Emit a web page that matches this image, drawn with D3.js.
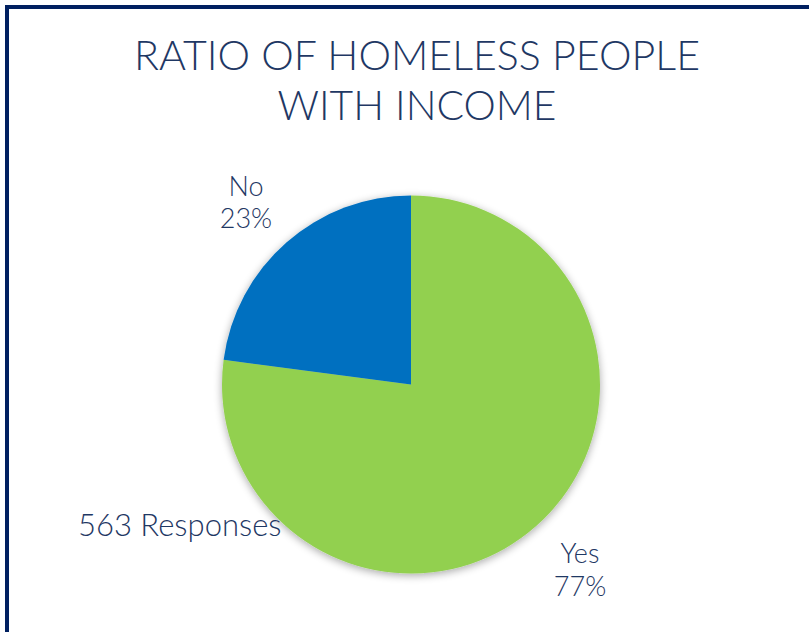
<!DOCTYPE html>
<html>
<head>
<meta charset="utf-8">
<script src="https://cdn.jsdelivr.net/npm/d3@7"></script>
<style>
  html, body { margin: 0; padding: 0; background: #fff; }
  svg { display: block; }
  text { font-family: Lato, "Open Sans", sans-serif; fill: #1f3864; }
</style>
</head>
<body>
<div id="chart"></div>
<script>
// chart data
var categories = ["Yes", "No"],
    counts     = [434, 129],
    colors     = ["#92d050", "#0070c0"],
    titleLines = ["RATIO OF HOMELESS PEOPLE", "WITH INCOME"],
    totalLabel = "563 Responses";

var width = 809, height = 632;

var svg = d3.select("#chart")
  .append("svg")
    .attr("width", width)
    .attr("height", height);

// soft shadow round the pie
var defs = svg.append("defs");
var shadow = defs.append("filter")
    .attr("id", "pie-shadow")
    .attr("x", "-10%").attr("y", "-10%")
    .attr("width", "120%").attr("height", "120%");
shadow.append("feGaussianBlur")
    .attr("in", "SourceAlpha")
    .attr("stdDeviation", 4);
shadow.append("feOffset")
    .attr("dx", 0).attr("dy", 2)
    .attr("result", "blur");
shadow.append("feComponentTransfer")
  .append("feFuncA")
    .attr("type", "linear")
    .attr("slope", 0.35);
var merge = shadow.append("feMerge");
merge.append("feMergeNode");
merge.append("feMergeNode").attr("in", "SourceGraphic");

// frame: left and top rules only
svg.append("path")
    .attr("d", "M7,632 V7 H809")
    .attr("fill", "none")
    .attr("stroke", "#002060")
    .attr("stroke-width", 4);

// title
svg.append("g")
    .attr("class", "title")
  .selectAll("text")
  .data(titleLines)
  .enter()
  .append("text")
    .attr("x", 417)
    .attr("y", function(d, i) { return 70 + i * 50; })
    .attr("text-anchor", "middle")
    .style("font-size", "41px")
    .style("font-weight", 300)
    .attr("textLength", function(d, i) { return i === 0 ? 566 : 279; })
    .attr("lengthAdjust", "spacingAndGlyphs")
    .text(function(d) { return d; });

// pie
var cx = 411, cy = 384.5, radius = 189;

var pie = d3.pie()
    .sort(null)
    .value(function(d) { return d; });

var arc = d3.arc()
    .innerRadius(0)
    .outerRadius(radius);

var slices = pie(counts);
var total = d3.sum(counts);

var g = svg.append("g")
    .attr("transform", "translate(" + cx + "," + cy + ")");

g.append("g")
    .attr("filter", "url(#pie-shadow)")
  .selectAll("path")
  .data(slices)
  .enter()
  .append("path")
    .attr("d", arc)
    .attr("fill", function(d, i) { return colors[i]; });

// data labels sit outside the pie, along each slice's mid angle
var labelArc = d3.arc()
    .innerRadius(radius * 1.22)
    .outerRadius(radius * 1.22);

var labels = g.selectAll("text.label")
  .data(slices)
  .enter()
  .append("text")
    .attr("class", "label")
    .attr("text-anchor", "middle")
    .style("font-size", "27px")
    .style("font-weight", 300)
    .attr("transform", function(d, i) {
      var c = labelArc.centroid(d);
      // small nudges so the labels sit where the original puts them
      var off = i === 0 ? [17, 11] : [-13, -10];
      return "translate(" + (c[0] + off[0]) + "," + (c[1] + off[1]) + ")";
    });

labels.append("tspan")
    .attr("x", 0)
    .attr("dy", "-0.2em")
    .text(function(d, i) { return categories[i]; });
labels.append("tspan")
    .attr("x", 0)
    .attr("dy", "1.2em")
    .text(function(d) { return d3.format(".0%")(d.value / total); });

// total responses note
svg.append("text")
    .attr("x", 78)
    .attr("y", 536)
    .style("font-size", "31px")
    .style("font-weight", 300)
    .text(totalLabel);
</script>
</body>
</html>
